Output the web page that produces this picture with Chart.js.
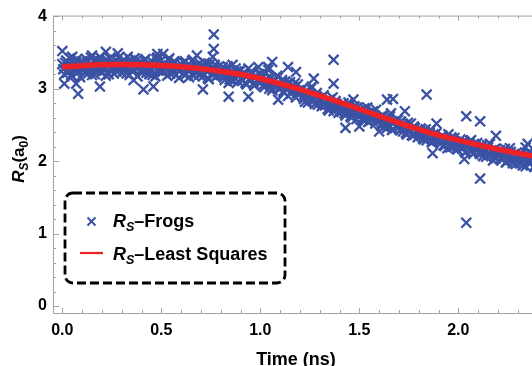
<!DOCTYPE html>
<html><head><meta charset="utf-8">
<script src="https://cdn.jsdelivr.net/npm/chart.js@4/dist/chart.umd.min.js"></script>
<style>html,body{margin:0;padding:0;background:#fff;overflow:hidden;}</style>
</head><body>
<canvas id="c" width="532" height="366"></canvas>
<script>
// ---- data ----
const frogsTime = [
0.00,0.01,0.02,0.03,0.04,0.05,0.06,0.07,0.08,0.09,
0.10,0.11,0.12,0.13,0.14,0.15,0.16,0.17,0.18,0.19,
0.20,0.21,0.22,0.23,0.24,0.25,0.26,0.27,0.28,0.29,
0.30,0.31,0.32,0.33,0.34,0.35,0.36,0.37,0.38,0.39,
0.40,0.41,0.42,0.43,0.44,0.45,0.46,0.47,0.48,0.49,
0.50,0.51,0.52,0.53,0.54,0.55,0.56,0.57,0.58,0.59,
0.60,0.61,0.62,0.63,0.64,0.65,0.66,0.67,0.68,0.69,
0.70,0.71,0.72,0.73,0.74,0.75,0.76,0.77,0.78,0.79,
0.80,0.81,0.82,0.83,0.84,0.85,0.86,0.87,0.88,0.89,
0.90,0.91,0.92,0.93,0.94,0.95,0.96,0.97,0.98,0.99,
1.00,1.01,1.02,1.03,1.04,1.05,1.06,1.07,1.08,1.09,
1.10,1.11,1.12,1.13,1.14,1.15,1.16,1.17,1.18,1.19,
1.20,1.21,1.22,1.23,1.24,1.25,1.26,1.27,1.28,1.29,
1.30,1.31,1.32,1.33,1.34,1.35,1.36,1.37,1.38,1.39,
1.40,1.41,1.42,1.43,1.44,1.45,1.46,1.47,1.48,1.49,
1.50,1.51,1.52,1.53,1.54,1.55,1.56,1.57,1.58,1.59,
1.60,1.61,1.62,1.63,1.64,1.65,1.66,1.67,1.68,1.69,
1.70,1.71,1.72,1.73,1.74,1.75,1.76,1.77,1.78,1.79,
1.80,1.81,1.82,1.83,1.84,1.85,1.86,1.87,1.88,1.89,
1.90,1.91,1.92,1.93,1.94,1.95,1.96,1.97,1.98,1.99,
2.00,2.01,2.02,2.03,2.04,2.05,2.06,2.07,2.08,2.09,
2.10,2.11,2.12,2.13,2.14,2.15,2.16,2.17,2.18,2.19,
2.20,2.21,2.22,2.23,2.24,2.25,2.26,2.27,2.28,2.29,
2.30,2.31,2.32,2.33,2.34,2.35,2.36,2.37,2.38,2.39,2.40
];
const frogsRs = [
3.34,3.20,3.39,3.26,3.42,3.17,3.30,3.37,3.23,3.16,
3.38,3.28,3.41,3.21,3.33,3.19,3.40,3.25,3.31,3.44,
3.24,3.37,3.18,3.34,3.42,3.27,3.21,3.39,3.30,3.35,
3.22,3.40,3.29,3.44,3.19,3.33,3.26,3.38,3.17,3.31,
3.36,3.24,3.41,3.28,3.20,3.38,3.31,3.17,3.43,3.26,
3.39,3.25,3.32,3.18,3.42,3.29,3.22,3.36,3.27,3.15,
3.34,3.21,3.38,3.26,3.16,3.31,3.40,3.23,3.29,3.19,
3.30,3.17,3.36,3.24,3.13,3.28,3.21,3.33,3.18,3.25,
3.19,3.30,3.12,3.26,3.08,3.22,3.33,3.15,3.24,3.10,
3.25,3.11,3.19,3.06,3.28,3.14,3.21,3.04,3.17,3.10,
3.08,3.19,3.02,3.13,3.26,3.05,2.98,3.11,3.03,3.16,
3.00,3.12,2.95,3.05,2.90,3.09,2.97,3.02,2.88,3.06,
2.93,3.00,2.86,2.97,2.81,2.92,3.03,2.84,2.90,2.78,
2.87,2.76,2.91,2.80,2.72,2.85,2.78,2.69,2.83,2.74,
2.75,2.68,2.80,2.63,2.72,2.77,2.60,2.70,2.65,2.74,
2.62,2.71,2.57,2.66,2.74,2.55,2.64,2.69,2.52,2.60,
2.57,2.49,2.63,2.53,2.46,2.58,2.66,2.44,2.55,2.50,
2.47,2.55,2.41,2.50,2.37,2.44,2.52,2.35,2.46,2.40,
2.38,2.45,2.32,2.41,2.29,2.36,2.43,2.27,2.34,2.39,
2.31,2.24,2.35,2.21,2.28,2.37,2.19,2.26,2.32,2.23,
2.22,2.30,2.17,2.26,2.13,2.21,2.28,2.15,2.24,2.18,
2.17,2.10,2.23,2.13,2.06,2.19,2.24,2.08,2.15,2.04,
2.09,2.15,2.02,2.12,1.98,2.07,2.18,2.01,2.10,1.96,
2.05,1.97,2.09,2.01,1.93,2.06,2.12,1.99,2.03,1.95,2.04
];
const frogsTime2 = [
0.005,0.015,0.025,0.035,0.045,0.055,0.065,0.075,0.085,0.095,
0.105,0.115,0.125,0.135,0.145,0.155,0.165,0.175,0.185,0.195,
0.205,0.215,0.225,0.235,0.245,0.255,0.265,0.275,0.285,0.295,
0.305,0.315,0.325,0.335,0.345,0.355,0.365,0.375,0.385,0.395,
0.405,0.415,0.425,0.435,0.445,0.455,0.465,0.475,0.485,0.495,
0.505,0.515,0.525,0.535,0.545,0.555,0.565,0.575,0.585,0.595,
0.605,0.615,0.625,0.635,0.645,0.655,0.665,0.675,0.685,0.695,
0.705,0.715,0.725,0.735,0.745,0.755,0.765,0.775,0.785,0.795,
0.805,0.815,0.825,0.835,0.845,0.855,0.865,0.875,0.885,0.895,
0.905,0.915,0.925,0.935,0.945,0.955,0.965,0.975,0.985,0.995,
1.005,1.015,1.025,1.035,1.045,1.055,1.065,1.075,1.085,1.095,
1.105,1.115,1.125,1.135,1.145,1.155,1.165,1.175,1.185,1.195,
1.205,1.215,1.225,1.235,1.245,1.255,1.265,1.275,1.285,1.295,
1.305,1.315,1.325,1.335,1.345,1.355,1.365,1.375,1.385,1.395,
1.405,1.415,1.425,1.435,1.445,1.455,1.465,1.475,1.485,1.495,
1.505,1.515,1.525,1.535,1.545,1.555,1.565,1.575,1.585,1.595,
1.605,1.615,1.625,1.635,1.645,1.655,1.665,1.675,1.685,1.695,
1.705,1.715,1.725,1.735,1.745,1.755,1.765,1.775,1.785,1.795,
1.805,1.815,1.825,1.835,1.845,1.855,1.865,1.875,1.885,1.895,
1.905,1.915,1.925,1.935,1.945,1.955,1.965,1.975,1.985,1.995,
2.005,2.015,2.025,2.035,2.045,2.055,2.065,2.075,2.085,2.095,
2.105,2.115,2.125,2.135,2.145,2.155,2.165,2.175,2.185,2.195,
2.205,2.215,2.225,2.235,2.245,2.255,2.265,2.275,2.285,2.295,
2.305,2.315,2.325,2.335,2.345,2.355,2.365,2.375,2.385,2.395
];
const frogsRs2 = [
3.27,3.36,3.22,3.31,3.19,3.35,3.28,3.41,3.25,3.33,
3.29,3.22,3.36,3.27,3.43,3.30,3.20,3.34,3.38,3.23,
3.32,3.26,3.40,3.20,3.29,3.36,3.31,3.24,3.43,3.28,
3.35,3.27,3.21,3.32,3.39,3.24,3.42,3.30,3.36,3.23,
3.29,3.39,3.22,3.34,3.27,3.19,3.35,3.41,3.25,3.32,
3.23,3.35,3.28,3.40,3.21,3.33,3.38,3.19,3.31,3.26,
3.28,3.36,3.20,3.33,3.27,3.38,3.18,3.30,3.24,3.35,
3.22,3.31,3.27,3.15,3.34,3.20,3.29,3.16,3.30,3.21,
3.27,3.16,3.23,3.31,3.13,3.20,3.11,3.28,3.18,3.25,
3.14,3.22,3.08,3.18,3.13,3.24,3.07,3.16,3.12,3.20,
3.14,3.05,3.21,3.09,3.00,3.15,3.10,3.04,3.18,3.01,
3.04,2.96,3.10,2.99,3.07,2.93,3.01,3.08,2.94,2.98,
2.97,2.89,2.82,2.95,2.87,3.00,2.85,2.79,2.94,2.86,
2.82,2.89,2.77,2.84,2.70,2.81,2.88,2.73,2.79,2.67,
2.71,2.78,2.66,2.74,2.81,2.62,2.69,2.76,2.58,2.67,
2.67,2.59,2.73,2.61,2.54,2.68,2.58,2.63,2.71,2.56,
2.61,2.52,2.47,2.59,2.51,2.62,2.43,2.53,2.48,2.57,
2.43,2.51,2.46,2.39,2.53,2.42,2.36,2.48,2.41,2.33,
2.42,2.35,2.30,2.44,2.33,2.39,2.26,2.37,2.31,2.28,
2.27,2.34,2.22,2.30,2.18,2.29,2.33,2.20,2.27,2.16,
2.25,2.19,2.27,2.12,2.23,2.16,2.29,2.10,2.20,2.25,
2.12,2.20,2.07,2.16,2.22,2.09,2.14,2.01,2.17,2.11,
2.13,2.04,2.11,2.17,2.00,2.08,2.13,1.97,2.06,2.12,
2.02,2.08,1.94,2.04,2.10,1.98,2.01,2.07,1.92,2.00
];
const outlierTime = [0.00,0.01,0.07,0.08,0.05,0.19,0.15,0.22,0.28,0.36,0.41,0.46,0.48,0.51,0.68,0.71,0.765,0.765,0.76,0.84,0.94,0.99,1.04,1.06,1.09,1.14,1.18,1.27,1.37,1.37,1.43,1.47,1.50,1.60,1.64,1.67,1.73,1.84,1.87,1.89,2.03,2.04,2.04,2.11,2.11,2.19,2.35,2.34];
const outlierRs   = [3.52,3.07,3.07,2.93,3.44,3.03,3.46,3.51,3.49,3.12,2.99,3.03,3.48,3.48,3.46,2.99,3.75,3.55,3.44,2.89,2.89,3.30,3.30,3.37,2.85,3.30,3.23,3.14,3.40,3.07,2.46,2.85,2.48,2.41,2.85,2.86,2.69,2.92,2.11,2.52,2.03,2.62,1.15,2.55,1.76,2.35,2.24,2.19];
const fitTime = [0.0,0.1,0.2,0.3,0.4,0.5,0.6,0.7,0.8,0.9,1.0,1.1,1.2,1.3,1.4,1.5,1.6,1.7,1.8,1.9,2.0,2.1,2.2,2.3,2.4];
const fitRs   = [3.300,3.318,3.330,3.335,3.333,3.322,3.304,3.278,3.243,3.200,3.142,3.070,2.990,2.905,2.815,2.720,2.625,2.530,2.440,2.360,2.290,2.225,2.165,2.110,2.060];
const xTickValues = [0, 0.5, 1, 1.5, 2];
const xTickLabels = ["0.0", "0.5", "1.0", "1.5", "2.0"];
const yTickValues = [0, 1, 2, 3, 4];
const yTickLabels = ["0", "1", "2", "3", "4"];

// ---- styles ----
const FONT = '"Liberation Sans", Arial, sans-serif';
const BLUE = '#3b52a4';
const RED = '#ee2226';
const AXIS = '#a3a3a3';

function richWidth(ctx, segs) {
  let w = 0;
  for (const s of segs) { ctx.font = (s.it ? 'italic ' : '') + 'bold ' + s.size + 'px ' + FONT; w += ctx.measureText(s.t).width; }
  return w;
}
function drawRich(ctx, segs, x, y) {
  ctx.textBaseline = 'alphabetic'; ctx.textAlign = 'left';
  for (const s of segs) {
    ctx.font = (s.it ? 'italic ' : '') + 'bold ' + s.size + 'px ' + FONT;
    ctx.fillText(s.t, x, y + (s.dy || 0));
    x += ctx.measureText(s.t).width;
  }
}

const framePlugin = {
  id: 'frame',
  beforeDatasetsDraw(chart) {
    const ctx = chart.ctx, a = chart.chartArea, xs = chart.scales.x, ys = chart.scales.y;
    ctx.save();
    ctx.strokeStyle = AXIS; ctx.lineWidth = 1;
    ctx.beginPath();
    ctx.moveTo(a.left + 0.5, a.top); ctx.lineTo(a.left + 0.5, a.bottom + 0.5);
    ctx.lineTo(a.right, a.bottom + 0.5);
    ctx.moveTo(a.left, a.top + 0.5); ctx.lineTo(a.right, a.top + 0.5);
    for (let i = 0; i <= 24; i++) {
      const v = i / 10, px = Math.round(xs.getPixelForValue(v)) + 0.5;
      if (px > a.right) continue;
      const len = (i % 5 === 0) ? 5 : 3;
      ctx.moveTo(px, a.bottom); ctx.lineTo(px, a.bottom - len);
      ctx.moveTo(px, a.top); ctx.lineTo(px, a.top + len);
    }
    for (let i = 0; i <= 20; i++) {
      const v = i / 5, py = Math.round(ys.getPixelForValue(v)) + 0.5;
      const len = (i % 5 === 0) ? 6 : 3;
      ctx.moveTo(a.left, py); ctx.lineTo(a.left + len, py);
    }
    ctx.stroke();
    ctx.restore();
  },
  afterDraw(chart) {
    const ctx = chart.ctx;
    ctx.save();
    ctx.fillStyle = '#000';
    ctx.font = 'bold 18px ' + FONT; ctx.textAlign = 'center'; ctx.textBaseline = 'alphabetic';
    ctx.fillText('Time (ns)', 296, 365);
    const ySegs = [
      {t: 'R', size: 17, it: true}, {t: 'S', size: 12, it: true, dy: 4},
      {t: '(a', size: 17}, {t: '0', size: 12, dy: 4}, {t: ')', size: 17}
    ];
    ctx.save();
    ctx.translate(24, 159); ctx.rotate(-Math.PI / 2);
    drawRich(ctx, ySegs, -richWidth(ctx, ySegs) / 2, 0);
    ctx.restore();
    ctx.save();
    ctx.beginPath();
    ctx.roundRect(65, 193, 220, 90, 8);
    ctx.fillStyle = '#fff'; ctx.fill();
    ctx.setLineDash([9, 4]); ctx.lineWidth = 2.8; ctx.strokeStyle = '#000'; ctx.stroke();
    ctx.restore();
    ctx.save();
    ctx.strokeStyle = BLUE; ctx.lineWidth = 2;
    ctx.beginPath();
    ctx.moveTo(87.5, 217.5); ctx.lineTo(95.5, 225.5);
    ctx.moveTo(95.5, 217.5); ctx.lineTo(87.5, 225.5);
    ctx.stroke();
    ctx.strokeStyle = RED; ctx.lineWidth = 2.2;
    ctx.beginPath(); ctx.moveTo(80, 253); ctx.lineTo(103, 253); ctx.stroke();
    ctx.restore();
    ctx.fillStyle = '#000';
    drawRich(ctx, [{t: 'R', size: 18, it: true}, {t: 'S', size: 12.5, it: true, dy: 4}, {t: '\u2013Frogs', size: 18}], 113, 227);
    drawRich(ctx, [{t: 'R', size: 18, it: true}, {t: 'S', size: 12.5, it: true, dy: 4}, {t: '\u2013Least Squares', size: 18}], 113, 260);
    ctx.restore();
  }
};

const scatterData = frogsTime.map((t, i) => ({x: t, y: frogsRs[i]}))
  .concat(frogsTime2.map((t, i) => ({x: t, y: frogsRs2[i]})))
  .concat(outlierTime.map((t, i) => ({x: t, y: outlierRs[i]})));
const fitData = fitTime.map((t, i) => ({x: t, y: fitRs[i]}));

new Chart(document.getElementById('c'), {
  data: {
    datasets: [
      {type: 'line', label: 'RS-Least Squares', data: fitData, borderColor: RED, borderWidth: 5.5,
       pointRadius: 0, cubicInterpolationMode: 'monotone', fill: false, order: 0},
      {type: 'scatter', label: 'RS-Frogs', data: scatterData, pointStyle: 'crossRot', pointRadius: 7,
       borderColor: BLUE, backgroundColor: BLUE, borderWidth: 2.3, order: 1}
    ]
  },
  options: {
    responsive: false, animation: false, devicePixelRatio: 1,
    layout: {autoPadding: false, padding: {top: 13, right: 0, left: 0, bottom: 0}},
    plugins: {legend: {display: false}, tooltip: {enabled: false}},
    scales: {
      x: {
        type: 'linear', position: 'bottom', min: -0.047, max: 2.372,
        grid: {display: false, drawTicks: false}, border: {display: false},
        afterBuildTicks: s => { s.ticks = xTickValues.map(v => ({value: v})); },
        afterFit: s => { s.height = 53; },
        ticks: {callback: v => xTickLabels[xTickValues.indexOf(v)], font: {family: FONT, size: 16, weight: 'bold'},
                color: '#000', padding: 8, maxRotation: 0, autoSkip: false}
      },
      y: {
        type: 'linear', position: 'left', min: -0.096, max: 4.01,
        grid: {display: false, drawTicks: false}, border: {display: false},
        afterBuildTicks: s => { s.ticks = yTickValues.map(v => ({value: v})); },
        afterFit: s => { s.width = 53; },
        ticks: {callback: v => yTickLabels[yTickValues.indexOf(v)], font: {family: FONT, size: 16, weight: 'bold'},
                color: '#000', padding: 6, autoSkip: false}
      }
    }
  },
  plugins: [framePlugin]
});
</script>
</body></html>
